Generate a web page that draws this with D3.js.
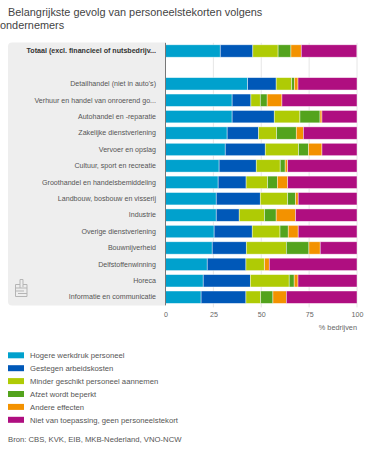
<!DOCTYPE html>
<html>
<head>
<meta charset="utf-8">
<title>Gevolg personeelstekorten</title>
<script src="https://d3js.org/d3.v7.min.js"></script>
<style>
  html, body { margin: 0; padding: 0; background: #fff; }
  svg { display: block; font-family: "Liberation Sans", Arial, sans-serif; }
  .axis path, .axis line { display: none; }
  .ylab text { font-size: 7.1px; fill: #555; }
  .xlab text { font-size: 7.1px; fill: #666; }
</style>
</head>
<body>
<div id="chart"></div>
<script>
// categories, top to bottom. the empty one is the gap below Totaal
var categories = ["Totaal (excl. financieel of nutsbedrijv...", "",
  "Detailhandel (niet in auto's)", "Verhuur en handel van onroerend go...", "Autohandel en -reparatie",
  "Zakelijke dienstverlening", "Vervoer en opslag", "Cultuur, sport en recreatie",
  "Groothandel en handelsbemiddeling", "Landbouw, bosbouw en visserij", "Industrie",
  "Overige dienstverlening", "Bouwnijverheid", "Delfstoffenwinning", "Horeca", "Informatie en communicatie"];

var seriesNames = ["Hogere werkdruk personeel", "Gestegen arbeidskosten", "Minder geschikt personeel aannemen",
  "Afzet wordt beperkt", "Andere effecten", "Niet van toepassing, geen personeelstekort"];

var colors = ["#00a1cd", "#0058b8", "#afcb05", "#53a31d", "#f39200", "#af0e80"];

var werkdruk = [28.6, null, 42.9, 34.8, 34.8, 32.2, 31.2, 28, 27.5, 26.5, 26.5, 25.4, 24.4, 21.8, 19.7, 18.6];
var arbeidskosten = [17, null, 14.9, 9.8, 22, 16.4, 20.9, 19.4, 14.6, 23, 12, 19.9, 17.8, 20.2, 24.6, 23.4];
var minderGeschikt = [13.2, null, 8.1, 4.9, 13.4, 9.4, 17.4, 12.5, 11.2, 14.3, 13.2, 14.5, 20.9, 9.6, 20.3, 7.7];
var afzet = [6.7, null, 1.4, 3.6, 10.5, 10.3, 5.2, 2.6, 5.1, 4.1, 6.1, 4.3, 11.8, 0.1, 2.6, 6.4];
var andere = [5.4, null, 1.9, 7.7, 1, 3.7, 7, 1.3, 5.4, 1.4, 10.1, 5.2, 5.9, 2.5, 2, 7];
var nvt = [29, null, 30.8, 39.2, 18.3, 28, 18.3, 36.2, 36.2, 30.7, 32.1, 30.7, 19.2, 45.8, 30.8, 36.9];

var xTicks = [0, 25, 50, 75, 100];

var allSeries = [werkdruk, arbeidskosten, minderGeschikt, afzet, andere, nvt];

var width = 386, height = 450;
var plotLeft = 165.5, plotRight = 357, plotTop = 42.8, plotBottom = 305.4;

var svg = d3.select("#chart").append("svg")
  .attr("width", width)
  .attr("height", height);

var x = d3.scaleLinear().domain([0, 100]).range([plotLeft, plotRight]);
var y = d3.scaleBand()
  .domain(d3.range(categories.length))
  .range([plotTop, plotBottom])
  .paddingInner(0.245)
  .paddingOuter(0.122);

// title
svg.append("text").attr("x", 8).attr("y", 15.5)
  .attr("font-size", 10.9).attr("fill", "#444")
  .text("Belangrijkste gevolg van personeelstekorten volgens");
svg.append("text").attr("x", 0).attr("y", 28.5)
  .attr("font-size", 10.9).attr("fill", "#444")
  .text("ondernemers");

// grey panel behind the labels
svg.append("path")
  .attr("d", "M165,42.5H12a4,4 0 0 0 -4,4V301.5a4,4 0 0 0 4,4H165Z")
  .attr("fill", "#eeeeee");

// grid
svg.append("g").selectAll("line")
  .data(xTicks.slice(1))
  .enter().append("line")
    .attr("x1", function(d){ return x(d); })
    .attr("x2", function(d){ return x(d); })
    .attr("y1", plotTop)
    .attr("y2", plotBottom + 2)
    .attr("stroke", "#e6e6e6");

// bars
var rows = categories.map(function(c, i){
  var row = { i: i };
  allSeries.forEach(function(s, k){ row[k] = s[i] || 0; });
  return row;
});
var stack = d3.stack().keys(d3.range(allSeries.length));

svg.append("g").selectAll("g")
  .data(stack(rows))
  .enter().append("g")
    .attr("fill", function(d, k){ return colors[k]; })
  .selectAll("rect")
  .data(function(d){ return d.filter(function(p){ return p[1] > p[0]; }); })
  .enter().append("rect")
    .attr("x", function(d){ return x(d[0]); })
    .attr("y", function(d){ return y(d.data.i); })
    .attr("width", function(d){ return x(d[1]) - x(d[0]); })
    .attr("height", y.bandwidth())
    .attr("stroke", "#fff")
    .attr("stroke-opacity", 0.6)
    .attr("stroke-width", 0.7);

// left axis line
svg.append("line")
  .attr("x1", plotLeft).attr("x2", plotLeft)
  .attr("y1", plotTop).attr("y2", plotBottom)
  .attr("stroke", "#777")
  .attr("stroke-width", 1);

// category labels
var yAxis = d3.axisLeft(y).tickSize(0).tickPadding(9.5)
  .tickFormat(function(i){ return categories[i]; });
var yG = svg.append("g")
  .attr("class", "axis ylab")
  .attr("transform", "translate(" + plotLeft + ",0)")
  .call(yAxis);
yG.attr("font-family", null).attr("font-size", null);
yG.selectAll("text")
  .filter(function(i){ return i === 0; })
  .style("font-weight", "bold")
  .style("fill", "#333");

// x axis
var xAxis = d3.axisBottom(x).tickValues(xTicks).tickSize(0).tickPadding(7);
svg.append("g")
  .attr("class", "axis xlab")
  .attr("transform", "translate(0," + plotBottom + ")")
  .call(xAxis)
  .attr("font-family", null).attr("font-size", null);

svg.append("text")
  .attr("x", plotRight).attr("y", 330)
  .attr("text-anchor", "end")
  .attr("font-size", 7.3).attr("fill", "#666")
  .text("% bedrijven");

// icon in the panel
svg.append("path")
  .attr("d", "M15.5,296.5V284.5H20V279.5H23V284.5H27V296.5Z M15.5,288H27 M15.5,291H24 M18,293.5H27 M20,284.5V288 M23,284.5V287")
  .attr("fill", "none")
  .attr("stroke", "#b5b5b5")
  .attr("stroke-width", 1);

// legend
var legend = svg.append("g").selectAll("g")
  .data(seriesNames)
  .enter().append("g")
    .attr("transform", function(d, i){ return "translate(8," + (352.3 + i * 12.9) + ")"; });
legend.append("rect")
  .attr("width", 16)
  .attr("height", 6)
  .attr("fill", function(d, i){ return colors[i]; });
legend.append("text")
  .attr("x", 22)
  .attr("y", 6)
  .attr("font-size", 7.7)
  .attr("fill", "#555")
  .text(function(d){ return d; });

// source
svg.append("text")
  .attr("x", 8).attr("y", 442)
  .attr("font-size", 7.7).attr("fill", "#555")
  .text("Bron: CBS, KVK, EIB, MKB-Nederland, VNO-NCW");
</script>
</body>
</html>
